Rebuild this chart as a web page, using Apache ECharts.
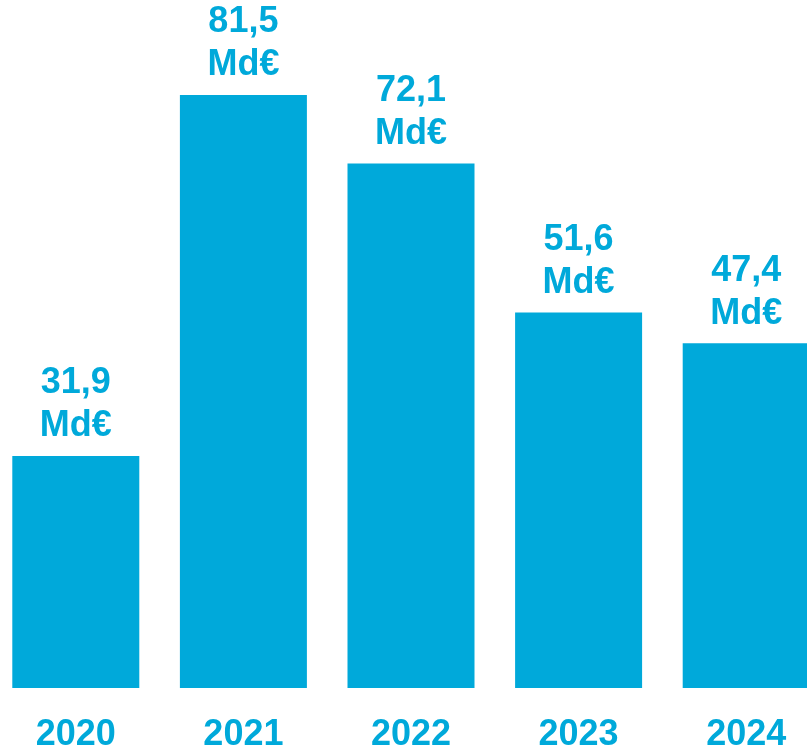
<!DOCTYPE html>
<html><head><meta charset="utf-8">
<script src="https://cdn.jsdelivr.net/npm/echarts@6/dist/echarts.min.js"></script>
<style>html,body{margin:0;padding:0;background:#fff}#c{width:807px;height:747px}</style>
</head><body><div id="c"></div>
<script>
const categories = ['2020', '2021', '2022', '2023', '2024'];
const values = [31.9, 81.5, 72.1, 51.6, 47.4];
const unit = 'Md€';
const color = '#00A9DA';
const chart = echarts.init(document.getElementById('c'), null, {renderer: 'canvas'});
chart.setOption({
  animation: false,
  grid: {left: -8, right: -23, top: 0, bottom: 59, containLabel: false, outerBoundsMode: 'none'},
  xAxis: {
    type: 'category', data: categories,
    axisLine: {show: false}, axisTick: {show: false},
    axisLabel: {color: color, fontFamily: 'Liberation Sans, Arial, sans-serif', fontWeight: 'bold', fontSize: 36, margin: 29}
  },
  yAxis: {type: 'value', min: 0, max: 94.56, show: false, splitLine: {show: false}},
  series: [{
    type: 'bar', data: values, barWidth: 127,
    itemStyle: {color: color},
    label: {
      show: true, position: 'top', distance: 8,
      color: color, fontFamily: 'Liberation Sans, Arial, sans-serif', fontWeight: 'bold', fontSize: 36, lineHeight: 43,
      formatter: p => p.value.toFixed(1).replace('.', ',') + '\n' + unit
    }
  }]
});
</script></body></html>
